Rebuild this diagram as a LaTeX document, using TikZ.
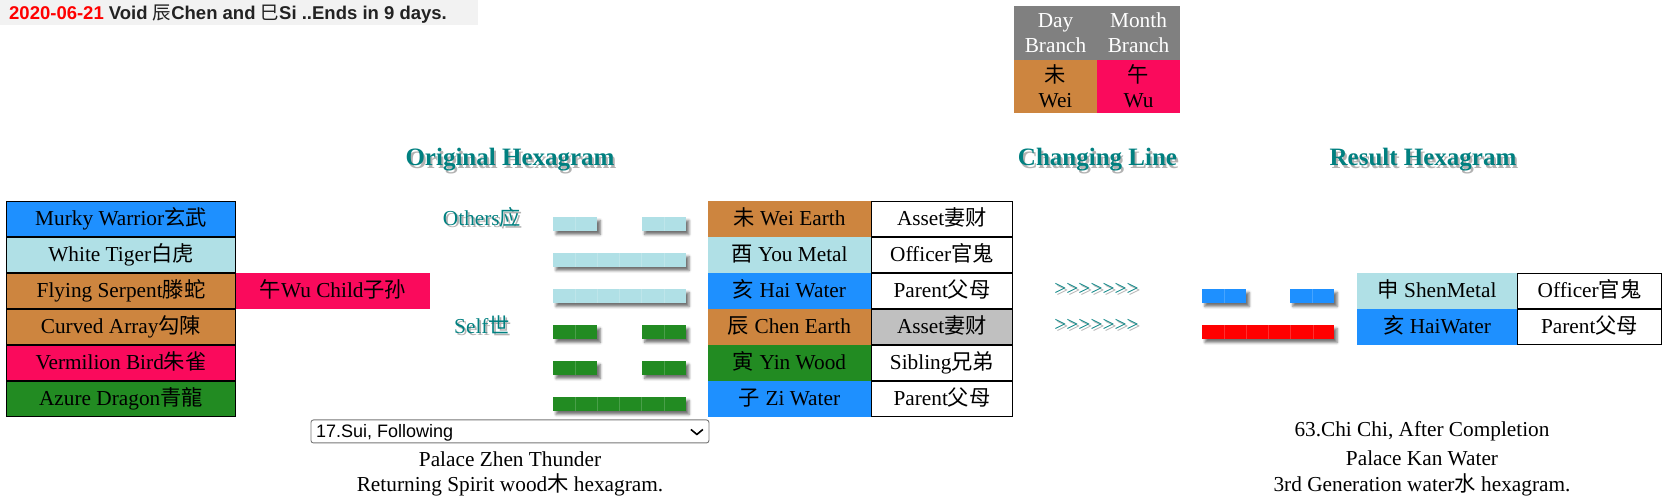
\documentclass[tikz,border=0pt]{standalone}
\usepackage{fontspec}
\setmainfont{Liberation Serif}
\setsansfont{Liberation Sans}
\newfontfamily\cjk{Noto Sans CJK SC}
\usetikzlibrary{shadows.blur,calc}
\definecolor{peru}{RGB}{205,133,63}
\definecolor{pblue}{RGB}{176,224,230}
\definecolor{dblue}{RGB}{30,144,255}
\definecolor{fgreen}{RGB}{34,139,34}
\definecolor{vpink}{RGB}{250,10,92}
\definecolor{silv}{RGB}{192,192,192}
\definecolor{hgray}{RGB}{128,128,128}
\definecolor{tealc}{RGB}{0,128,128}
\definecolor{hdrbg}{RGB}{242,242,242}
\definecolor{hdrtext}{RGB}{34,34,34}
\definecolor{selgray}{RGB}{118,118,118}
\newcommand{\zh}[1]{{\cjk\mdseries #1}}
\newcommand{\arrs}{>\kern0pt>\kern0pt>\kern0pt>\kern0pt>\kern0pt>\kern0pt>}
\tikzset{
  txt/.style={inner sep=0pt, font=\fontsize{21.3}{25}\selectfont},
  cell/.style={txt, rectangle, minimum height=36pt, text height=16pt, text depth=3pt},
  bcell/.style={cell, draw=black, line width=1.2pt, minimum height=34.8pt},
  lcell/.style={bcell, minimum width=228.8pt},
  rcell/.style={cell, minimum width=163pt},
  pcell/.style={bcell, minimum width=140.8pt},
  qcell/.style={cell, minimum width=160pt},
  scell/.style={bcell, minimum width=143.8pt},
  dm/.style={txt, align=center, minimum width=83pt},
  seg/.style={rectangle, inner sep=0pt, minimum height=14pt,
    blur shadow={shadow xshift=3pt, shadow yshift=-3.5pt, shadow blur radius=2.5pt, shadow opacity=55}},
  seg2/.style={seg, minimum width=44.3pt,
    path picture={\draw[white, opacity=.18, line width=.6pt] (path picture bounding box.north) -- (path picture bounding box.south);}},
  seg6/.style={seg, minimum width=133pt,
    path picture={\foreach \k in {1,...,5}{\draw[white, opacity=.18, line width=.6pt] ([xshift=\k*22.17pt]path picture bounding box.north west) -- ([xshift=\k*22.17pt]path picture bounding box.south west);}}},
  ttl/.style={inner sep=0pt, font=\bfseries\fontsize{25}{28}\selectfont, text=tealc, anchor=base},
  ttls/.style={ttl, text=black, opacity=.3},
  tl/.style={txt, text=tealc, anchor=base},
  tls/.style={tl, text=black, opacity=.3},
  bt/.style={txt, anchor=base},
}
\begin{document}
\begin{tikzpicture}[x=1pt,y=-1pt]
\useasboundingbox (0,0) rectangle (1663,502);

% header line
\node[fill=hdrbg, anchor=north west, minimum width=478pt, minimum height=25pt, inner sep=0pt] (hdrbox) at (0,0) {};
\node[anchor=base west, inner sep=0pt, font=\sffamily\bfseries\fontsize{18.5}{20}\selectfont, text=hdrtext] (hdr) at (9,19.5)
  {\textcolor{red}{2020-06-21} Void \zh{辰}Chen and \zh{巳}Si ..Ends in 9 days.};

% day / month branch table
\node[dm, fill=hgray, text=white, minimum height=54pt] (dh) at (1055.5,33) {Day\\Branch};
\node[dm, fill=hgray, text=white, minimum height=54pt] (mh) at (1138.5,33) {Month\\Branch};
\node[dm, fill=peru, minimum height=53pt] (dv) at (1055.5,86.5) {\zh{未}\\Wei};
\node[dm, fill=vpink, minimum height=53pt] (mv) at (1138.5,86.5) {\zh{午}\\Wu};

% titles
\node[ttls] (t1s) at (512,168.5) {Original Hexagram};
\node[ttl] (t1) at (510,166) {Original Hexagram};
\node[ttls] (t2s) at (1099.5,168.5) {Changing Line};
\node[ttl] (t2) at (1097.5,166) {Changing Line};
\node[ttls] (t3s) at (1425,168.5) {Result Hexagram};
\node[ttl] (t3) at (1423,166) {Result Hexagram};

% six spirits table
\node[lcell, fill=dblue] (s1) at (121,219) {Murky Warrior\zh{玄武}};
\node[lcell, fill=pblue] (s2) at (121,255) {White Tiger\zh{白虎}};
\node[lcell, fill=peru] (s3) at (121,291) {Flying Serpent\zh{滕蛇}};
\node[lcell, fill=peru] (s4) at (121,327) {Curved Array\zh{勾陳}};
\node[lcell, fill=vpink] (s5) at (121,363) {Vermilion Bird\zh{朱雀}};
\node[lcell, fill=fgreen] (s6) at (121,399) {Azure Dragon\zh{青龍}};
\node[cell, fill=vpink, minimum width=194pt] (hid) at (333,291) {\zh{午}Wu Child\zh{子孙}};

% others / self
\node[tls] (oths) at (484,228) {Others\zh{应}};
\node[tl] (oth) at (482,226) {Others\zh{应}};
\node[tls] (slfs) at (484,336) {Self\zh{世}};
\node[tl] (slf) at (482,334) {Self\zh{世}};

% original hexagram lines
\node[seg2, fill=pblue] (o1l) at (575.2,224) {};
\node[seg2, fill=pblue] (o1r) at (663.8,224) {};
\node[seg6, fill=pblue] (o2) at (619.5,260) {};
\node[seg6, fill=pblue] (o3) at (619.5,296) {};
\node[seg2, fill=fgreen] (o4l) at (575.2,332) {};
\node[seg2, fill=fgreen] (o4r) at (663.8,332) {};
\node[seg2, fill=fgreen] (o5l) at (575.2,368) {};
\node[seg2, fill=fgreen] (o5r) at (663.8,368) {};
\node[seg6, fill=fgreen] (o6) at (619.5,404) {};

% branch table
\node[rcell, fill=peru] (b1) at (789.5,219) {\zh{未} Wei Earth};
\node[rcell, fill=pblue] (b2) at (789.5,255) {\zh{酉} You Metal};
\node[rcell, fill=dblue] (b3) at (789.5,291) {\zh{亥} Hai Water};
\node[rcell, fill=peru] (b4) at (789.5,327) {\zh{辰} Chen Earth};
\node[rcell, fill=fgreen] (b5) at (789.5,363) {\zh{寅} Yin Wood};
\node[rcell, fill=dblue] (b6) at (789.5,399) {\zh{子} Zi Water};
\node[pcell, fill=white] (r1) at (942,219) {Asset\zh{妻财}};
\node[pcell, fill=white] (r2) at (942,255) {Officer\zh{官鬼}};
\node[pcell, fill=white] (r3) at (942,291) {Parent\zh{父母}};
\node[pcell, fill=silv] (r4) at (942,327) {Asset\zh{妻财}};
\node[pcell, fill=white] (r5) at (942,363) {Sibling\zh{兄弟}};
\node[pcell, fill=white] (r6) at (942,399) {Parent\zh{父母}};

% changing line arrows
\node[tls] (ch1s) at (1098.5,298) {\arrs};
\node[tl] (ch1) at (1096.5,296) {\arrs};
\node[tls] (ch2s) at (1098.5,334) {\arrs};
\node[tl] (ch2) at (1096.5,332) {\arrs};

% result hexagram lines
\node[seg2, fill=dblue] (n1l) at (1224,296) {};
\node[seg2, fill=dblue] (n1r) at (1312,296) {};
\node[seg6, fill=red, minimum width=132pt] (n2) at (1268,332) {};

% result table
\node[qcell, fill=pblue] (q1) at (1437,291) {\zh{申} ShenMetal};
\node[qcell, fill=dblue] (q2) at (1437,327) {\zh{亥} HaiWater};
\node[scell, fill=white] (p1) at (1589.5,291) {Officer\zh{官鬼}};
\node[scell, fill=white] (p2) at (1589.5,327) {Parent\zh{父母}};

% select box
\node[draw=selgray, line width=0.9pt, rounded corners=2.5pt, minimum width=398pt, minimum height=23pt, inner sep=0pt, anchor=north west] (sel) at (310.5,419.5) {};
\node[anchor=base west, inner sep=0pt, font=\sffamily\fontsize{18}{20}\selectfont] (seltxt) at (316,437.5) {17.Sui, Following};
\draw[line width=1.6pt] ($(sel.east)+(-18.5,-2)$) -- ($(sel.east)+(-12.5,3)$) -- ($(sel.east)+(-6.5,-2)$);

% captions
\node[bt] (c1) at (510,466) {Palace Zhen Thunder};
\node[bt] (c2) at (510,491.5) {Returning Spirit wood\zh{木} hexagram.};
\node[bt] (c3) at (1422,437) {63.Chi Chi, After Completion};
\node[bt] (c4) at (1422,465.5) {Palace Kan Water};
\node[bt] (c5) at (1422,491.5) {3rd Generation water\zh{水} hexagram.};
\end{tikzpicture}
\end{document}
